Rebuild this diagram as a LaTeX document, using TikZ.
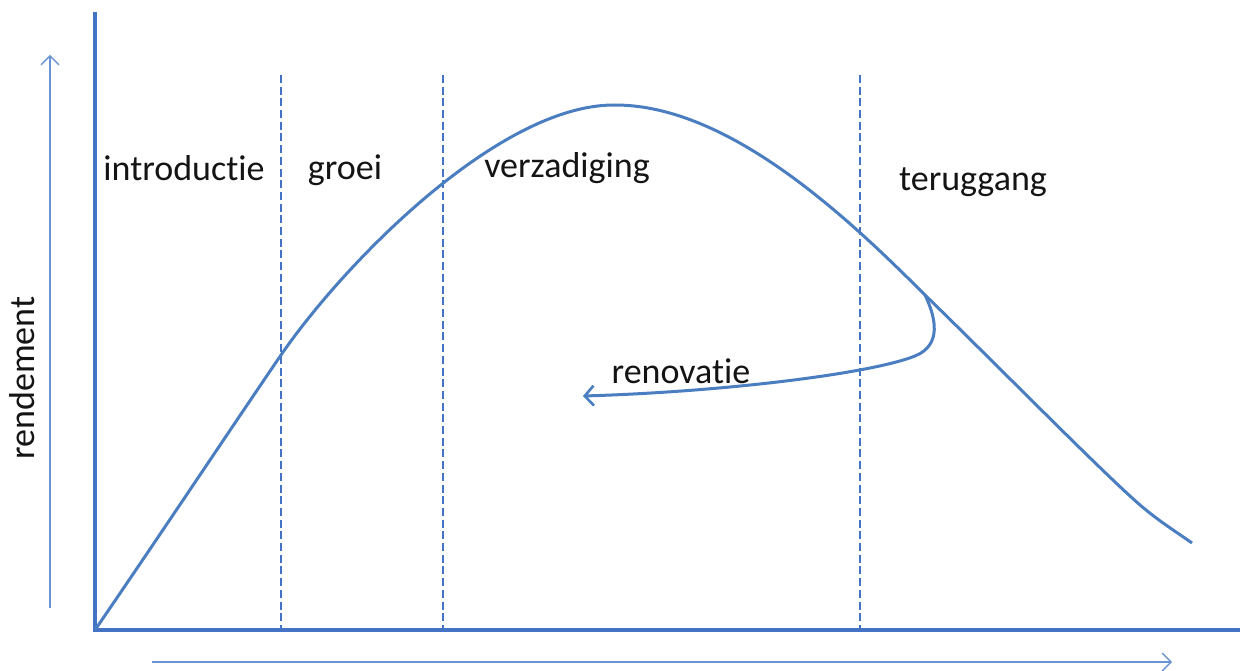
\documentclass[tikz,border=0pt]{standalone}
\usepackage{fontspec}
\setmainfont{Carlito}[Ligatures={NoCommon,NoRare}]
\usetikzlibrary{arrows.meta}
\definecolor{axisblue}{HTML}{4472C4}
\definecolor{curveblue}{HTML}{4A7EC1}
\definecolor{thinblue}{HTML}{6A93D2}
\definecolor{txt}{HTML}{141414}
\begin{document}
\begin{tikzpicture}[x=1pt,y=-1pt,
  axis/.style={draw=axisblue,line width=4.2pt},
  thinarrow/.style={draw=thinblue,line width=1.4pt,-{Straight Barb[length=9pt,width=18pt,line width=1.4pt]}},
  phase/.style={draw=axisblue,line width=2.8pt,dash pattern=on 8pt off 3.7pt},
  curve/.style={draw=curveblue,line width=3pt,line join=round},
  lbl/.style={text=txt,font=\fontsize{36}{40}\selectfont,inner sep=0pt}]
\useasboundingbox (0,0) rectangle (1245,671);
% axes
\coordinate (O) at (95,630);
\coordinate (ytop) at (95,12);
\coordinate (xend) at (1240,630);
\draw[axis] (ytop) -- (O) -- (xend);
% direction arrows beside the axes
\coordinate (ya) at (50,608);
\coordinate (yb) at (50,55);
\coordinate (xa) at (152,662);
\coordinate (xb) at (1172,662);
\draw[thinarrow] (ya) -- (yb);
\draw[thinarrow] (xa) -- (xb);
% phase boundaries
\foreach \n/\x in {d1/281,d2/443,d3/860}{
  \coordinate (\n top) at (\x,75);
  \coordinate (\n bot) at (\x,630);
  \draw[phase] (\n top) -- (\n bot);
}
% life-cycle curve
\coordinate (c0) at (95,630);
\coordinate (c1) at (281,355);
\coordinate (peak) at (615,105);
\coordinate (rs) at (925,295);
\coordinate (c4) at (1140,505);
\coordinate (cend) at (1192,543);
\draw[curve] (c0) .. controls (160,535) and (240,415) .. (c1)
  .. controls (345,262) and (500,104) .. (peak)
  .. controls (730,105) and (850,220) .. (rs)
  .. controls (1000,368) and (1100,470) .. (c4)
  .. controls (1160,522) and (1175,531) .. (cend);
% renovation branch
\coordinate (re) at (583,396);
\draw[curve,-{Straight Barb[length=9pt,width=20pt,line width=2.6pt]}]
  (rs) .. controls (936,318) and (942,345) .. (915,356)
  .. controls (870,374) and (720,392) .. (re);
% labels
\node[lbl] (intro) at (184,168) {introduct\kern0pt ie};
\node[lbl] (groei) at (345,170) {groei};
\node[lbl] (verz) at (567,168) {verzadiging};
\node[lbl] (terug) at (973,182) {teruggang};
\node[lbl] (reno) at (681,371) {renovat\kern0pt ie};
\node[lbl,rotate=90] (rend) at (22,378) {rendement};
\end{tikzpicture}
\end{document}
